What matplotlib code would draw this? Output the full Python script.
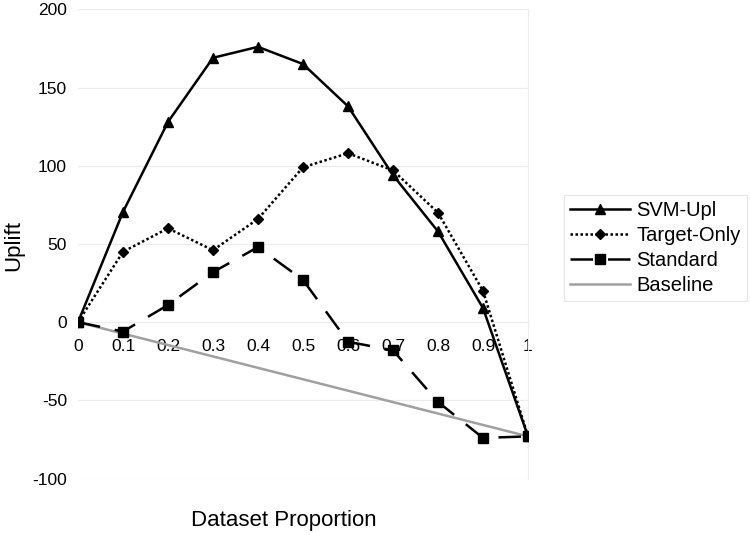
import matplotlib
matplotlib.use("Agg")
import matplotlib.pyplot as plt
import numpy as np

plt.rcParams["font.family"] = ["Liberation Sans", "DejaVu Sans"]
plt.rcParams["axes.unicode_minus"] = False

proportion = [0, 0.1, 0.2, 0.3, 0.4, 0.5, 0.6, 0.7, 0.8, 0.9, 1.0]
svm_upl = [0, 70.5, 128, 169, 176, 165, 138, 94, 58, 9, -73]
target_only = [0, 45, 60, 46, 66, 99, 108, 97, 70, 20, -73]
standard = [0, -6, 11, 32, 48, 27, -12.5, -18, -51, -74, -73]
baseline_x = [0, 1.0]
baseline = [0, -73]
xtick_labels = ["0", "0.1", "0.2", "0.3", "0.4", "0.5", "0.6", "0.7", "0.8", "0.9", "1"]

fig = plt.figure(figsize=(7.5, 5.35), dpi=100)
ax = fig.add_axes([0.104, 0.1054, 0.6, 0.8772])

ax.plot(proportion, svm_upl, color="black", lw=1.8, marker="^", ms=7,
        label="SVM-Upl", zorder=4)
ax.plot(proportion, target_only, color="black", lw=1.8, ls=(0, (1, 1)),
        marker="D", ms=5, label="Target-Only", zorder=4)
ax.plot(proportion, standard, color="black", lw=1.8, ls=(0, (9, 6)),
        marker="s", ms=7, label="Standard", zorder=4)
ax.plot(baseline_x, baseline, color="#a0a0a0", lw=1.8, label="Baseline", zorder=3)

ax.set_xlim(0, 1)
ax.set_ylim(-100, 200)
ax.set_yticks(np.arange(-100, 201, 50))
ax.set_xticks(proportion)
ax.set_xticklabels(xtick_labels)
ax.tick_params(axis="both", length=0, labelsize=12.5)
ax.tick_params(axis="x", pad=12)
ax.tick_params(axis="y", pad=8)
ax.grid(True, axis="y", color="#ececec", lw=0.8)
ax.set_axisbelow(True)

for s in ["top", "left"]:
    ax.spines[s].set_visible(False)
ax.spines["right"].set_color("#ececec")
ax.spines["bottom"].set_position(("data", 0))
ax.spines["bottom"].set_color("#ececec")

fig.text(0.018, 0.542, "Uplift", fontsize=16, rotation=90, ha="center", va="center")
fig.text(0.379, 0.028, "Dataset Proportion", fontsize=16, ha="center", va="center")

leg = ax.legend(loc="upper left", bbox_to_anchor=(1.08, 0.604), borderaxespad=0,
                fontsize=14.5, frameon=True, fancybox=False, handlelength=3.0,
                handletextpad=0.3, borderpad=0.3, labelspacing=0.3)
leg.get_frame().set_edgecolor("#e0e0e0")
leg.get_frame().set_linewidth(0.8)

fig.savefig("out.png", dpi=100, facecolor="white")
